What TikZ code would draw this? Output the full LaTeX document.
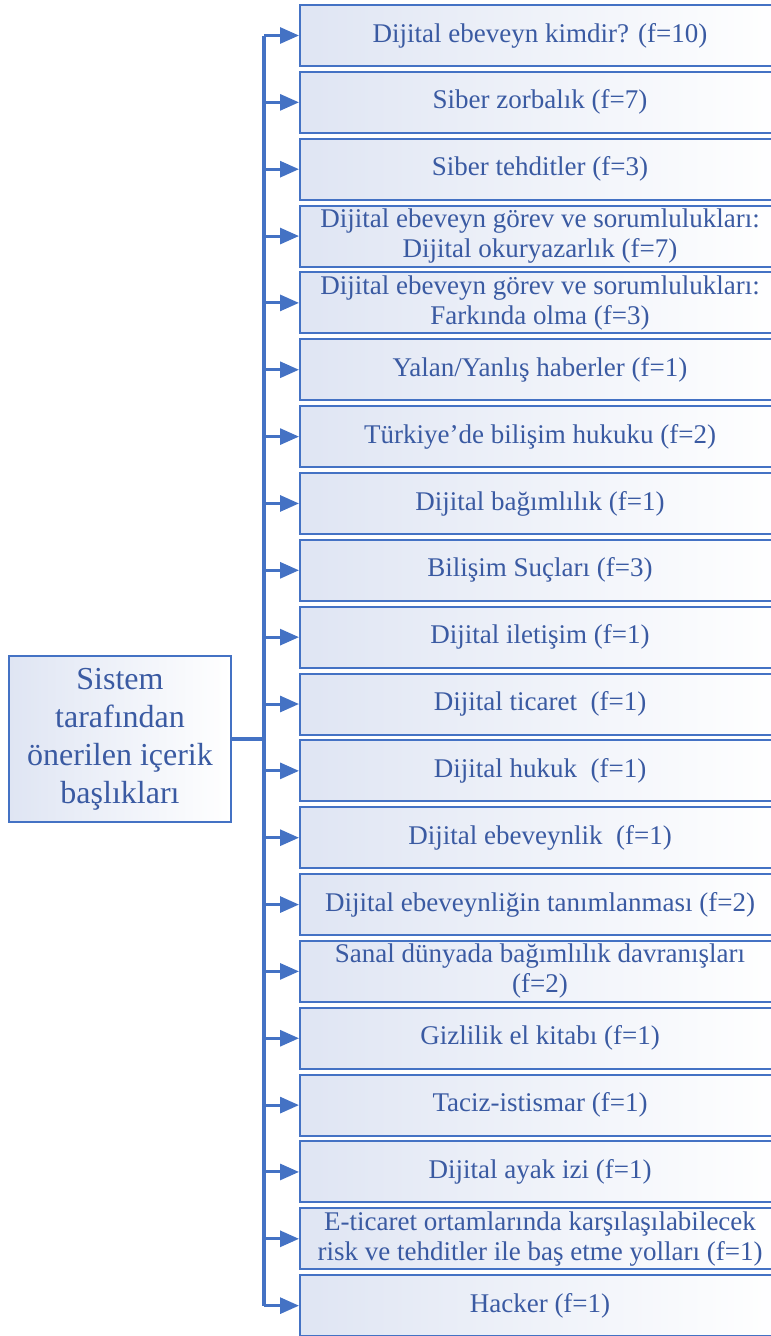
\documentclass[tikz,border=0pt]{standalone}
\usepackage{fontspec}
\setmainfont{Liberation Serif}
\usetikzlibrary{arrows.meta}
\definecolor{kenar}{HTML}{4472C4}
\definecolor{yazi}{HTML}{3A5AA2}
\definecolor{dolgu}{HTML}{DFE5F3}
\tikzset{
  baslik/.style={draw=kenar, line width=2pt, left color=dolgu, right color=white,
    text=yazi, align=center, inner sep=0pt, minimum width=480pt, minimum height=61pt,
    font=\fontsize{27}{30}\selectfont},
  kok/.style={draw=kenar, line width=2pt, left color=dolgu, right color=white,
    text=yazi, align=center, inner sep=0pt, minimum width=222pt, minimum height=166pt,
    font=\fontsize{32}{38}\selectfont}
}
\begin{document}
\begin{tikzpicture}[x=1pt, y=-1pt, >={Triangle[length=19pt,width=16pt]}]
    % Sayfa sınırı
    \useasboundingbox (0,0) rectangle (771,1336);
    \clip (0,0) rectangle (771,1336);

    % Kök kutu
    \node[kok] (kok) at (120,739) {Sistem\\tarafından\\önerilen içerik\\başlıkları};

    % Başlık kutuları
    \foreach \lbl [count=\i, evaluate=\i as \y using 35.5+66.85*(\i-1)] in {
        {Dijital ebeveyn kimdir? (f=10)},
        {Siber zorbalık (f=7)},
        {Siber tehditler (f=3)},
        {Dijital ebeveyn görev ve sorumlulukları:\\Dijital okuryazarlık (f=7)},
        {Dijital ebeveyn görev ve sorumlulukları:\\Farkında olma (f=3)},
        {Yalan/Yanlış haberler (f=1)},
        {Türkiye'de bilişim hukuku (f=2)},
        {Dijital bağımlılık (f=1)},
        {Bilişim Suçları (f=3)},
        {Dijital iletişim (f=1)},
        {Dijital ticaret~ (f=1)},
        {Dijital hukuk~ (f=1)},
        {Dijital ebeveynlik~ (f=1)},
        {Dijital ebeveynliğin tanımlanması (f=2)},
        {Sanal dünyada bağımlılık davranışları\\(f=2)},
        {Gizlilik el kitabı (f=1)},
        {Taciz-istismar (f=1)},
        {Dijital ayak izi (f=1)},
        {E-ticaret ortamlarında karşılaşılabilecek\\risk ve tehditler ile baş etme yolları (f=1)},
        {Hacker (f=1)}}
        \node[baslik] (t\i) at (540,\y) {\lbl};

    % Gövde çizgisi
    \coordinate (govde) at (264,739);
    \draw[kenar, line width=4pt] (kok.east) -- (govde);
    \draw[kenar, line width=3.5pt] (govde |- t1.west) -- (govde |- t20.west);

    % Oklar
    \foreach \i in {1,...,20}
        \draw[->, kenar, line width=3pt] (govde |- t\i.west) -- (t\i.west);
\end{tikzpicture}
\end{document}
